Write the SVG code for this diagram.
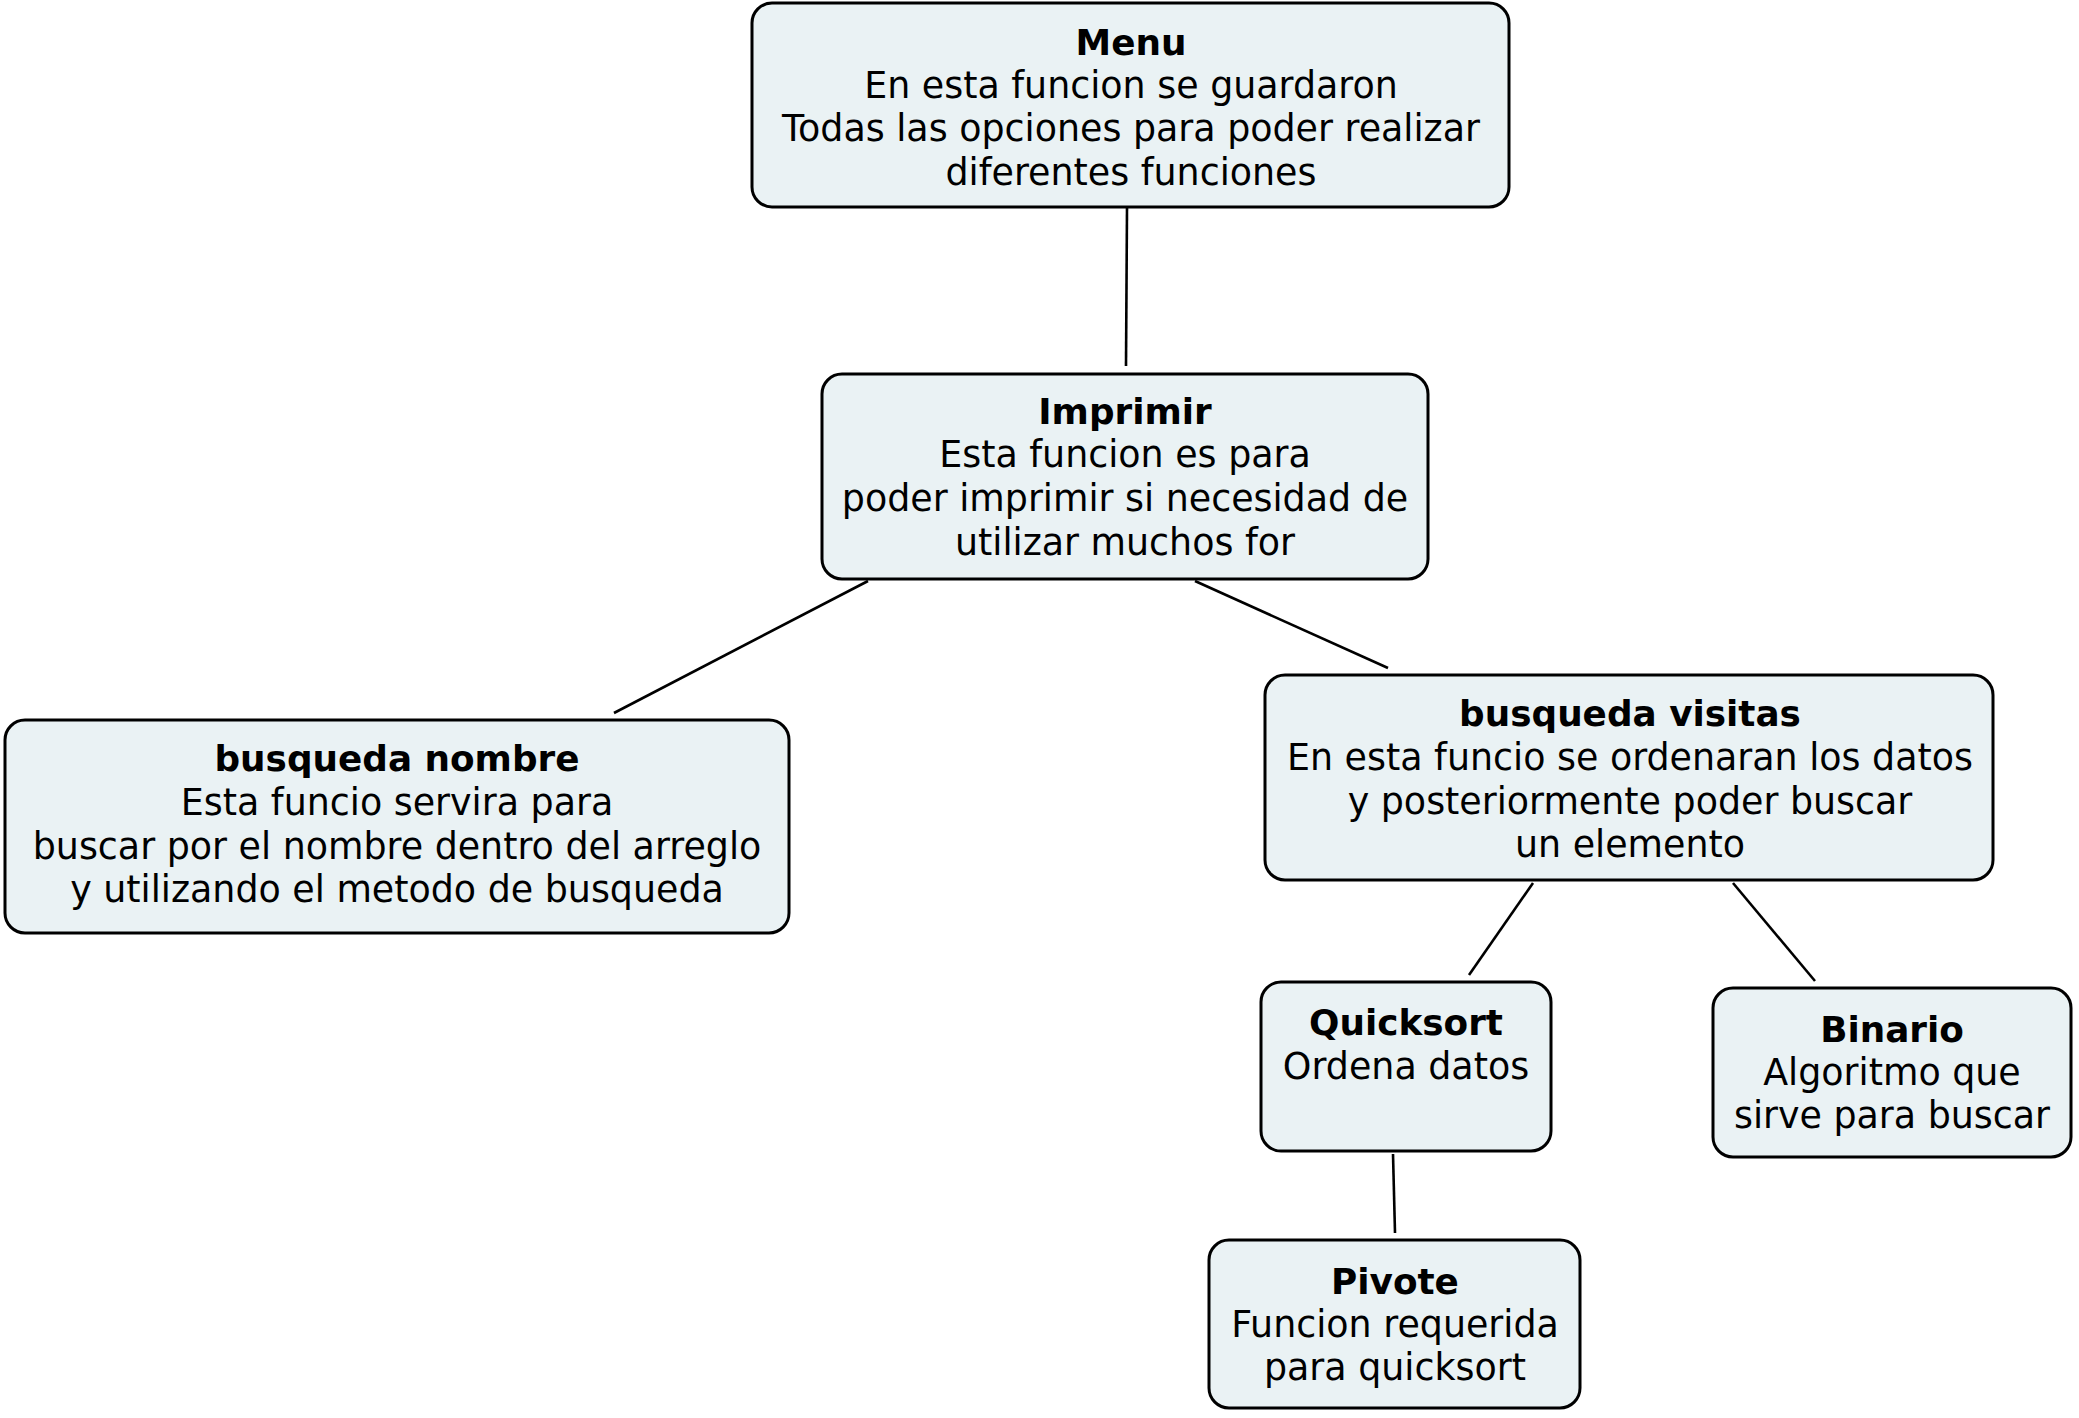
<svg xmlns="http://www.w3.org/2000/svg" width="2079" height="1418" viewBox="0 0 2079 1418">
<style>
.box{fill:#EAF2F4;stroke:#000;stroke-width:3}
text{font-family:"DejaVu Sans",Verdana,sans-serif;font-size:36.4px;fill:#000;text-anchor:middle}
.t{font-weight:bold;font-size:35.8px}
.c line{stroke:#000;stroke-width:2.6}
</style>
<rect width="2079" height="1418" fill="#fff"/>
<g class="c" id="connectors">
<line x1="1127" y1="208" x2="1126" y2="366"/>
<line x1="868" y1="581" x2="614" y2="713"/>
<line x1="1195" y1="581" x2="1388" y2="668"/>
<line x1="1533" y1="883" x2="1469" y2="975"/>
<line x1="1733" y1="883" x2="1815" y2="981"/>
<line x1="1393" y1="1154" x2="1395" y2="1233"/>
</g>
<g id="menu">
<rect class="box" x="752" y="3" width="757" height="204" rx="20"/>
<text class="t" x="1131" y="54.5">Menu</text>
<text x="1131" y="97.5">En esta funcion se guardaron</text>
<text x="1131" y="140.5">Todas las opciones para poder realizar</text>
<text x="1131" y="184.5">diferentes funciones</text>
</g>
<g id="imprimir">
<rect class="box" x="822" y="374" width="606" height="205" rx="20"/>
<text class="t" x="1125" y="423.5">Imprimir</text>
<text x="1125" y="466.5">Esta funcion es para</text>
<text x="1125" y="510.5">poder imprimir si necesidad de</text>
<text x="1125" y="554.5">utilizar muchos for</text>
</g>
<g id="busqueda-nombre">
<rect class="box" x="5" y="720" width="784" height="213" rx="20"/>
<text class="t" x="397" y="770.5">busqueda nombre</text>
<text x="397" y="814.5">Esta funcio servira para</text>
<text x="397" y="858.5">buscar por el nombre dentro del arreglo</text>
<text x="397" y="901.5">y utilizando el metodo de busqueda</text>
</g>
<g id="busqueda-visitas">
<rect class="box" x="1265" y="675" width="728" height="205" rx="20"/>
<text class="t" x="1630" y="725.5">busqueda visitas</text>
<text x="1630" y="769.5">En esta funcio se ordenaran los datos</text>
<text x="1630" y="813.5">y posteriormente poder buscar</text>
<text x="1630" y="856.5">un elemento</text>
</g>
<g id="quicksort">
<rect class="box" x="1261" y="982" width="290" height="169" rx="20"/>
<text class="t" x="1406" y="1034.5">Quicksort</text>
<text x="1406" y="1078.5">Ordena datos</text>
</g>
<g id="binario">
<rect class="box" x="1713" y="988" width="358" height="169" rx="20"/>
<text class="t" x="1892" y="1041.5">Binario</text>
<text x="1892" y="1084.5">Algoritmo que</text>
<text x="1892" y="1127.5">sirve para buscar</text>
</g>
<g id="pivote">
<rect class="box" x="1209" y="1240" width="371" height="168" rx="20"/>
<text class="t" x="1395" y="1293.5">Pivote</text>
<text x="1395" y="1336.5">Funcion requerida</text>
<text x="1395" y="1379.5">para quicksort</text>
</g>
</svg>
